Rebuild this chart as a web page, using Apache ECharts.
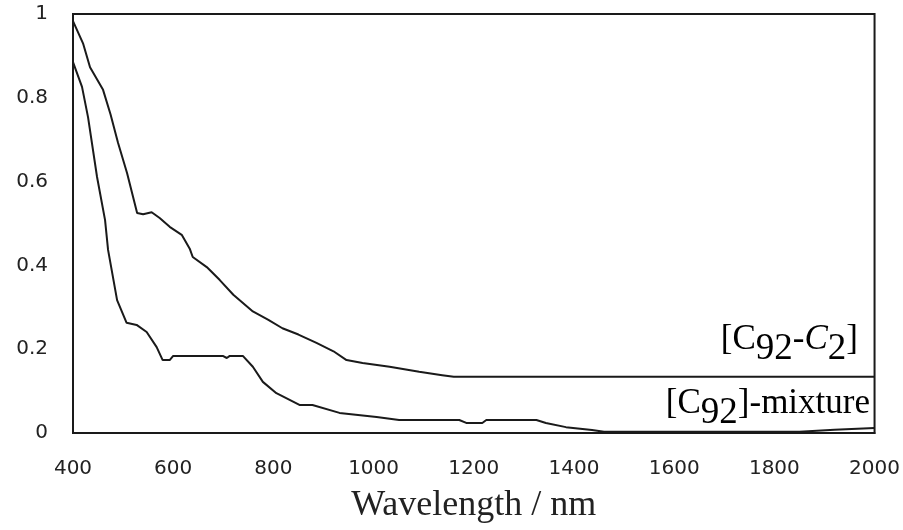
<!DOCTYPE html>
<html>
<head>
<meta charset="utf-8">
<script src="https://cdn.jsdelivr.net/npm/echarts@6/dist/echarts.min.js"></script>
<style>html,body{margin:0;padding:0;background:#fff}#c{width:903px;height:530px}</style>
</head>
<body>
<div id="c"></div>
<script>
// [C92-C2] curve
const c92c2Wavelength = [400, 420, 434, 460, 475, 490, 508, 528, 540, 557, 573, 593, 617, 633, 639, 667, 693, 720, 759, 790, 818, 850, 886, 920, 946, 978, 1032, 1091, 1137, 1160, 2000];
const c92c2Values     = [0.983, 0.93, 0.873, 0.819, 0.76, 0.692, 0.62, 0.525, 0.522, 0.527, 0.513, 0.492, 0.473, 0.44, 0.42, 0.396, 0.365, 0.33, 0.29, 0.27, 0.25, 0.235, 0.215, 0.195, 0.174, 0.167, 0.158, 0.146, 0.138, 0.134, 0.134];
// [C92]-mixture curve
const mixWavelength = [400, 418, 430, 448, 464, 470, 488, 507, 527, 547, 567, 579, 593, 600, 699, 707, 713, 739, 759, 779, 806, 852, 878, 932, 1006, 1051, 1171, 1185, 1217, 1225, 1325, 1344, 1384, 1436, 1460, 1600, 1850, 1920, 2000];
const mixValues     = [0.885, 0.826, 0.754, 0.611, 0.508, 0.437, 0.317, 0.263, 0.258, 0.241, 0.205, 0.174, 0.174, 0.184, 0.184, 0.179, 0.184, 0.184, 0.158, 0.122, 0.095, 0.067, 0.067, 0.048, 0.038, 0.031, 0.031, 0.024, 0.024, 0.031, 0.031, 0.024, 0.014, 0.007, 0.003, 0.003, 0.003, 0.008, 0.012];
// axes
const xTicks = [400, 600, 800, 1000, 1200, 1400, 1600, 1800, 2000];
const yTicks = [0, 0.2, 0.4, 0.6, 0.8, 1];
const xAxisName = 'Wavelength / nm';
const labelUpper = '{m|[C}{s|92}{m|-}{i|C}{s|2}{m|]}';
const labelLower = '{m|[C}{s|92}{m|]-mixture}';

const chart = echarts.init(document.getElementById('c'));
const ink = '#1a1a1a';
const tickFont = {fontFamily: 'DejaVu Sans', fontSize: 20, color: '#222'};
const richStyles = {
  m: {fontFamily: 'Liberation Serif', fontSize: 35, lineHeight: 36, verticalAlign: 'top', color: '#222'},
  i: {fontFamily: 'Liberation Serif', fontSize: 35, fontStyle: 'italic', lineHeight: 36, verticalAlign: 'top', color: '#222'},
  s: {fontFamily: 'Liberation Serif', fontSize: 37, lineHeight: 46, verticalAlign: 'bottom', color: '#222'}
};
chart.setOption({
  animation: false,
  backgroundColor: '#fff',
  grid: {left: 73, right: 27, top: 14, bottom: 97, show: true, borderColor: ink, borderWidth: 2, backgroundColor: 'transparent'},
  xAxis: {
    type: 'value', min: xTicks[0], max: xTicks[xTicks.length - 1], interval: 200,
    name: xAxisName, nameLocation: 'middle', nameGap: 55,
    nameTextStyle: {fontFamily: 'Liberation Serif', fontSize: 36, color: '#222'},
    axisLine: {show: true, lineStyle: {color: ink, width: 2}},
    axisTick: {show: false}, splitLine: {show: false},
    axisLabel: Object.assign({margin: 26, formatter: v => String(v)}, tickFont)
  },
  yAxis: {
    type: 'value', min: yTicks[0], max: yTicks[yTicks.length - 1], interval: 0.2,
    axisLine: {show: true, lineStyle: {color: ink, width: 2}},
    axisTick: {show: false}, splitLine: {show: false},
    axisLabel: Object.assign({margin: 25, formatter: v => String(+v.toFixed(1))}, tickFont)
  },
  series: [
    {type: 'line', name: '[C92-C2]', data: c92c2Wavelength.map((x, i) => [x, c92c2Values[i]]), showSymbol: false, symbol: 'none', lineStyle: {color: ink, width: 2}, z: 3},
    {type: 'line', name: '[C92]-mixture', data: mixWavelength.map((x, i) => [x, mixValues[i]]), showSymbol: false, symbol: 'none', lineStyle: {color: ink, width: 2}, z: 3}
  ],
  graphic: [
    {type: 'text', x: 858, y: 322, style: {text: labelUpper, align: 'right', verticalAlign: 'top', rich: richStyles}},
    {type: 'text', x: 870, y: 386, style: {text: labelLower, align: 'right', verticalAlign: 'top', rich: richStyles}}
  ]
});
</script>
</body>
</html>
